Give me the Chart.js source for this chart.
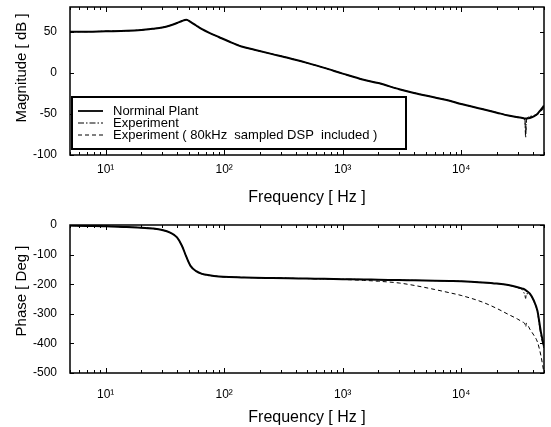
<!DOCTYPE html>
<html>
<head>
<meta charset="utf-8">
<script src="https://cdn.jsdelivr.net/npm/chart.js@4.4.0/dist/chart.umd.min.js"></script>
<style>
  html, body { margin: 0; padding: 0; background: #fff; }
  #wrap { position: relative; width: 551px; height: 427px; background: #fff; }
  canvas { position: absolute; left: 0; }
</style>
</head>
<body>
<div id="wrap">
  <canvas id="magChart" width="551" height="212" style="top:0"></canvas>
  <canvas id="phaseChart" width="551" height="215" style="top:212px"></canvas>
</div>
<script>
// frequency points [Hz]
const freq = [5, 7, 10, 15, 20, 25, 30, 35, 40, 44, 48, 52, 58, 65, 75, 90, 110, 140, 180, 250,
              350, 500, 700, 1000, 1500, 2000, 3000, 4000, 6000, 8000, 10000, 15000, 20000, 25000,
              30000, 33000, 34500, 35000, 35500, 38000, 41000, 44000, 47000, 50000];

// magnitude [dB]
const nominalMag = [50, 50, 50.5, 51, 52, 53.5, 55, 57.5, 60.5, 63, 64.5, 62, 57.5, 53, 48.5, 43.5, 38, 32, 28, 23,
                    18, 12, 6, -1, -8.5, -12.5, -20, -24.5, -30, -34, -38, -44, -48.5, -52,
                    -54, -55, -55.5, -55.5, -55.5, -55, -53, -50, -45, -40];
const expMag = [50, 50, 50.5, 51, 52, 53.5, 55, 57.5, 60.5, 63, 64.5, 62, 57.5, 53, 48.5, 43.5, 38, 32, 28, 23,
                18, 12, 6, -1, -8.5, -12.5, -20, -24.5, -30, -34, -38, -44, -48.5, -52,
                -54, -55, -58, -79, -58, -53, -52, -50, -46, -41];
const dspMag = [50, 50, 50.5, 51, 52, 53.5, 55, 57.5, 60.5, 63, 64.5, 62, 57.5, 53, 48.5, 43.5, 38, 32, 28, 23,
                18, 12, 6, -1, -8.5, -12.5, -20, -24.5, -30, -34, -38, -44, -48.5, -52,
                -54, -55, -57, -74, -57, -54, -53, -51, -47, -43];

// phase [deg]
const nominalPhase = [-2, -3, -4, -7, -9, -12, -17, -26, -42, -70, -108, -138, -156, -165, -170, -174, -176, -177, -178, -179,
                      -180, -181, -182, -183, -184, -185, -186, -187, -188, -189, -190, -194, -198, -203,
                      -210, -215, -218, -220, -222, -232, -255, -290, -360, -410];
const expPhase = [-2, -3, -4, -7, -9, -12, -17, -26, -42, -70, -108, -138, -156, -165, -170, -174, -176, -177, -178, -179,
                  -180, -181, -182, -183, -184, -185, -186, -187, -188, -189, -190, -194, -198, -203,
                  -212, -220, -238, -248, -232, -235, -258, -295, -370, -420];
const dspPhase = [-2, -3, -4, -7, -9, -12, -17, -26, -42, -70, -108, -138, -156, -165, -170, -174, -176, -177, -178, -179,
                  -180, -181, -182, -184, -187, -190, -196, -204, -218, -229, -238, -260, -282, -302,
                  -318, -328, -334, -345, -332, -352, -372, -395, -440, -500];

// axis ticks
const xMajor = [10, 100, 1000, 10000];
const xLabels = ['10¹', '10²', '10³', '10⁴'];
const magTicks = [-100, -50, 0, 50];
const phaseTicks = [-500, -400, -300, -200, -100, 0];

const legendLabels = ['Norminal Plant', 'Experiment', 'Experiment ( 80kHz  sampled DSP  included )'];
const seriesDash = [[], [6, 2, 1.5, 2], [4, 3]];
const seriesWidth = [2, 1, 1];

// minor + major tick positions on the log axis
const xTickValues = [];
for (let d = 1; d <= 10000; d *= 10) {
    for (let m = 1; m <= 9; m++) {
        const v = m * d;
        if (v >= 5 && v <= 50000) xTickValues.push(v);
    }
}

const FONT = "'Liberation Sans', Arial, sans-serif";

function toPoints(ys) {
    return freq.map((f, i) => ({ x: f, y: ys[i] }));
}

function makeDatasets(series) {
    return series.map((ys, i) => ({
        label: legendLabels[i],
        data: toPoints(ys),
        borderColor: '#000',
        borderWidth: seriesWidth[i],
        borderDash: seriesDash[i],
        pointRadius: 0,
        cubicInterpolationMode: 'monotone',
        fill: false
    }));
}

// frame + inward tick marks
const framePlugin = {
    id: 'frame',
    afterDatasetsDraw(chart) {
        const { ctx, chartArea: a, scales } = chart;
        ctx.save();
        ctx.strokeStyle = '#000';
        ctx.lineWidth = 1;
        ctx.beginPath();
        scales.x.ticks.forEach(t => {
            const px = Math.round(scales.x.getPixelForValue(t.value)) + 0.5;
            const len = xMajor.includes(t.value) ? 5 : 3;
            ctx.moveTo(px, a.bottom); ctx.lineTo(px, a.bottom - len);
            ctx.moveTo(px, a.top); ctx.lineTo(px, a.top + len);
        });
        scales.y.ticks.forEach(t => {
            const py = Math.round(scales.y.getPixelForValue(t.value)) + 0.5;
            ctx.moveTo(a.left, py); ctx.lineTo(a.left + 4, py);
            ctx.moveTo(a.right, py); ctx.lineTo(a.right - 4, py);
        });
        ctx.stroke();
        ctx.lineWidth = 1.5;
        ctx.strokeRect(a.left, a.top, a.right - a.left, a.bottom - a.top);
        ctx.restore();
    }
};

// rotated y title, placed like the original
function yTitlePlugin(text, cy) {
    return {
        id: 'ytitle',
        afterDraw(chart) {
            const ctx = chart.ctx;
            ctx.save();
            ctx.translate(22, cy);
            ctx.rotate(-Math.PI / 2);
            ctx.font = '15px ' + FONT;
            ctx.fillStyle = '#000';
            ctx.textAlign = 'center';
            ctx.textBaseline = 'middle';
            ctx.fillText(text, 0, 0);
            ctx.restore();
        }
    };
}

// boxed legend inside the magnitude plot
const legendPlugin = {
    id: 'boxLegend',
    afterDraw(chart) {
        const { ctx, chartArea: a } = chart;
        const x = a.left + 2, y = 97, w = 334, h = 52;
        ctx.save();
        ctx.fillStyle = '#fff';
        ctx.fillRect(x, y, w, h);
        ctx.strokeStyle = '#000';
        ctx.lineWidth = 2;
        ctx.strokeRect(x, y, w, h);
        ctx.font = '13px ' + FONT;
        ctx.fillStyle = '#000';
        ctx.textBaseline = 'middle';
        const rows = [111, 123, 135];
        legendLabels.forEach((lab, i) => {
            ctx.beginPath();
            ctx.lineWidth = seriesWidth[i] === 2 ? 1.8 : 1;
            ctx.setLineDash(seriesDash[i]);
            ctx.moveTo(x + 6, rows[i]);
            ctx.lineTo(x + 31, rows[i]);
            ctx.stroke();
            ctx.setLineDash([]);
            ctx.fillText(lab, x + 41, rows[i]);
        });
        ctx.restore();
    }
};

function makeOptions(cfg) {
    return {
        responsive: false,
        animation: false,
        layout: { padding: { top: cfg.top, right: 7, left: 0, bottom: 0 } },
        plugins: { legend: { display: false }, tooltip: { enabled: false } },
        scales: {
            x: {
                type: 'logarithmic',
                min: 5,
                max: 50000,
                grid: { display: false },
                border: { display: false },
                afterBuildTicks: scale => {
                    scale.ticks = xTickValues.map(v => ({ value: v }));
                },
                afterFit: scale => {
                    scale.height = cfg.xHeight;
                    scale.paddingLeft = 0;
                    scale.paddingRight = 0;
                },
                ticks: {
                    autoSkip: false,
                    maxRotation: 0,
                    padding: cfg.labelPad,
                    color: '#000',
                    font: { family: FONT, size: 12 },
                    callback: v => {
                        const k = xMajor.indexOf(v);
                        return k >= 0 ? xLabels[k] : '';
                    }
                },
                title: {
                    display: true,
                    text: 'Frequency [ Hz ]',
                    color: '#000',
                    font: { family: FONT, size: 16, lineHeight: 1.2 },
                    padding: { top: 0, bottom: cfg.titlePad }
                }
            },
            y: {
                min: cfg.yMin,
                max: cfg.yMax,
                grid: { display: false },
                border: { display: false },
                afterBuildTicks: scale => {
                    scale.ticks = cfg.yTicks.map(v => ({ value: v }));
                },
                afterFit: scale => {
                    scale.width = 70;
                    scale.paddingTop = 0;
                    scale.paddingBottom = 0;
                },
                ticks: {
                    padding: 5,
                    color: '#000',
                    font: { family: FONT, size: 12 }
                }
            }
        }
    };
}

new Chart(document.getElementById('magChart'), {
    type: 'line',
    data: { datasets: makeDatasets([nominalMag, expMag, dspMag]) },
    options: makeOptions({ top: 7, xHeight: 57, labelPad: -1, titlePad: 5, yMin: -100, yMax: 80, yTicks: magTicks }),
    plugins: [framePlugin, legendPlugin, yTitlePlugin('Magnitude [ dB ]', 68)]
});

new Chart(document.getElementById('phaseChart'), {
    type: 'line',
    data: { datasets: makeDatasets([nominalPhase, expPhase, dspPhase]) },
    options: makeOptions({ top: 13, xHeight: 54, labelPad: 6, titlePad: 0, yMin: -500, yMax: 0, yTicks: phaseTicks }),
    plugins: [framePlugin, yTitlePlugin('Phase [ Deg ]', 79)]
});
</script>
</body>
</html>
